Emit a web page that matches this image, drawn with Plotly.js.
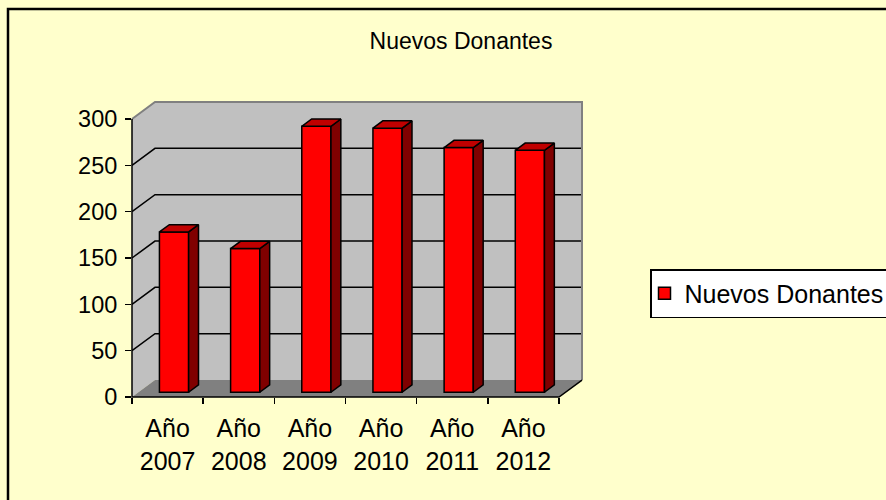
<!DOCTYPE html>
<html>
<head>
<meta charset="utf-8">
<script src="https://cdn.plot.ly/plotly-3.0.1.min.js"></script>
<style>html,body{margin:0;padding:0;background:#FFFFCC;}#chart{width:886px;height:500px;}</style>
</head>
<body>
<div id="chart"></div>
<script>
// ---- data ----
const years = ['2007', '2008', '2009', '2010', '2011', '2012'];
const tickLabels = ['Año<br>2007', 'Año<br>2008', 'Año<br>2009', 'Año<br>2010', 'Año<br>2011', 'Año<br>2012'];
const seriesName = 'Nuevos Donantes';
const values = [173, 155, 287, 285, 264, 261];
const yTicks = [0, 50, 100, 150, 200, 250, 300];

// ---- pseudo-3D geometry (data units) ----
const X0 = -0.5, X1 = 5.837, Y0 = 0, Y1 = 319.4;
const DX = 0.323, DY = 18.3;        // full floor depth offset
const BAR_F = 0.28, BAR_D = 0.43, BAR_W = 0.41;
const YMAX = 300;
const xPos = years.map((_, i) => i);
const xLeft = X0, xRight = xPos.length - 0.5;

const px = x => (x - X0) / (X1 - X0);
const py = y => (y - Y0) / (Y1 - Y0);
const pathOf = pts => 'M' + pts.map(p => px(p[0]) + ',' + py(p[1])).join('L') + 'Z';
const lineOf = pts => 'M' + pts.map(p => px(p[0]) + ',' + py(p[1])).join('L');

const shapes = [];
// left wall
shapes.push({type: 'path', xref: 'paper', yref: 'paper', layer: 'below',
  path: pathOf([[xLeft, 0], [xLeft + DX, DY], [xLeft + DX, YMAX + DY], [xLeft, YMAX]]),
  fillcolor: '#C0C0C0', line: {width: 0}});
// back wall
shapes.push({type: 'path', xref: 'paper', yref: 'paper', layer: 'below',
  path: pathOf([[xLeft + DX, DY], [xRight + DX, DY], [xRight + DX, YMAX + DY], [xLeft + DX, YMAX + DY]]),
  fillcolor: '#C0C0C0', line: {width: 0}});
// floor
shapes.push({type: 'path', xref: 'paper', yref: 'paper', layer: 'below',
  path: pathOf([[xLeft, 0], [xRight, 0], [xRight + DX, DY], [xLeft + DX, DY]]),
  fillcolor: '#808080', line: {width: 0}});
// gridlines
yTicks.filter(v => v > 0 && v < YMAX).forEach(v => {
  shapes.push({type: 'path', xref: 'paper', yref: 'paper', layer: 'below',
    path: lineOf([[xLeft, v], [xLeft + DX, v + DY], [xRight + DX, v + DY]]),
    line: {color: '#000000', width: 1.5}});
});
// wall top/right edges
shapes.push({type: 'path', xref: 'paper', yref: 'paper', layer: 'below',
  path: lineOf([[xLeft, YMAX], [xLeft + DX, YMAX + DY], [xRight + DX, YMAX + DY], [xRight + DX, DY]]),
  line: {color: '#808080', width: 2}});
// axis lines
shapes.push({type: 'path', xref: 'paper', yref: 'paper', layer: 'above',
  path: lineOf([[xLeft, YMAX], [xLeft, 0], [xRight, 0], [xRight + DX, DY]]),
  line: {color: '#000000', width: 1.5}});
// outer chart border
shapes.push({type: 'rect', xref: 'paper', yref: 'paper', layer: 'above',
  x0: (8 - 132) / 451, x1: (900 - 132) / 451, y0: (397 - 510) / 296, y1: (397 - 9) / 296,
  line: {color: '#000000', width: 2.5}, fillcolor: 'rgba(0,0,0,0)'});

const traces = [];
const base = BAR_F * DY;
traces.push({
  type: 'bar', name: seriesName, x: xPos, y: values, base: base,
  width: BAR_W, offset: BAR_F * DX - BAR_W / 2,
  marker: {color: '#FF0000', line: {color: '#000000', width: 1.5}},
  hoverinfo: 'skip'
});
values.forEach((v, i) => {
  const xl = xPos[i] + BAR_F * DX - BAR_W / 2, xr = xl + BAR_W;
  const b = base, t = base + v, ddx = BAR_D * DX, ddy = BAR_D * DY;
  const side = [[xr, b], [xr + ddx, b + ddy], [xr + ddx, t + ddy], [xr, t], [xr, b]];
  const top = [[xl, t], [xr, t], [xr + ddx, t + ddy], [xl + ddx, t + ddy], [xl, t]];
  [[side, '#800000'], [top, '#C00000']].forEach(([pts, col]) => {
    traces.push({type: 'scatter', mode: 'lines', x: pts.map(p => p[0]), y: pts.map(p => p[1]),
      fill: 'toself', fillcolor: col, line: {color: '#000000', width: 1.5},
      showlegend: false, hoverinfo: 'skip'});
  });
});

const font = {family: '"Liberation Sans", Arial, sans-serif', color: '#000000'};
const layout = {
  width: 886, height: 500,
  paper_bgcolor: '#FFFFCC', plot_bgcolor: 'rgba(0,0,0,0)',
  margin: {l: 132, r: 303, t: 101, b: 103, autoexpand: false},
  font: Object.assign({size: 23}, font),
  title: {text: seriesName, font: Object.assign({size: 23}, font),
    x: 461 / 886, xref: 'container', xanchor: 'center', y: 1 - 33 / 500, yref: 'container', yanchor: 'top'},
  showlegend: true,
  legend: {x: (650 - 132) / 451, y: (397 - 269) / 296, xanchor: 'left', yanchor: 'top',
    bgcolor: '#FFFFFF', bordercolor: '#000000', borderwidth: 1.5,
    font: Object.assign({size: 25}, font), indentation: -7},
  xaxis: {type: 'linear', range: [X0, X1], tickmode: 'array', tickvals: xPos, ticktext: tickLabels,
    ticks: '', showgrid: false, zeroline: false, showline: false, ticklabelstandoff: 14,
    tickfont: Object.assign({size: 25}, font),
    minor: {tickmode: 'array', tickvals: xPos.concat([xPos.length]).map(i => i - 0.5),
      ticks: 'outside', ticklen: 6, tickwidth: 1.5, tickcolor: '#000000', showgrid: false}},
  yaxis: {range: [Y0, Y1], tickmode: 'array', tickvals: yTicks, ticks: 'outside', ticklen: 6,
    tickwidth: 1.5, tickcolor: '#000000', showgrid: false, zeroline: false, showline: false,
    ticklabelstandoff: 3, tickfont: Object.assign({size: 23.5}, font)},
  shapes: shapes,
  bargap: 0
};
Plotly.newPlot('chart', traces, layout, {displayModeBar: false, staticPlot: true});
</script>
</body>
</html>
